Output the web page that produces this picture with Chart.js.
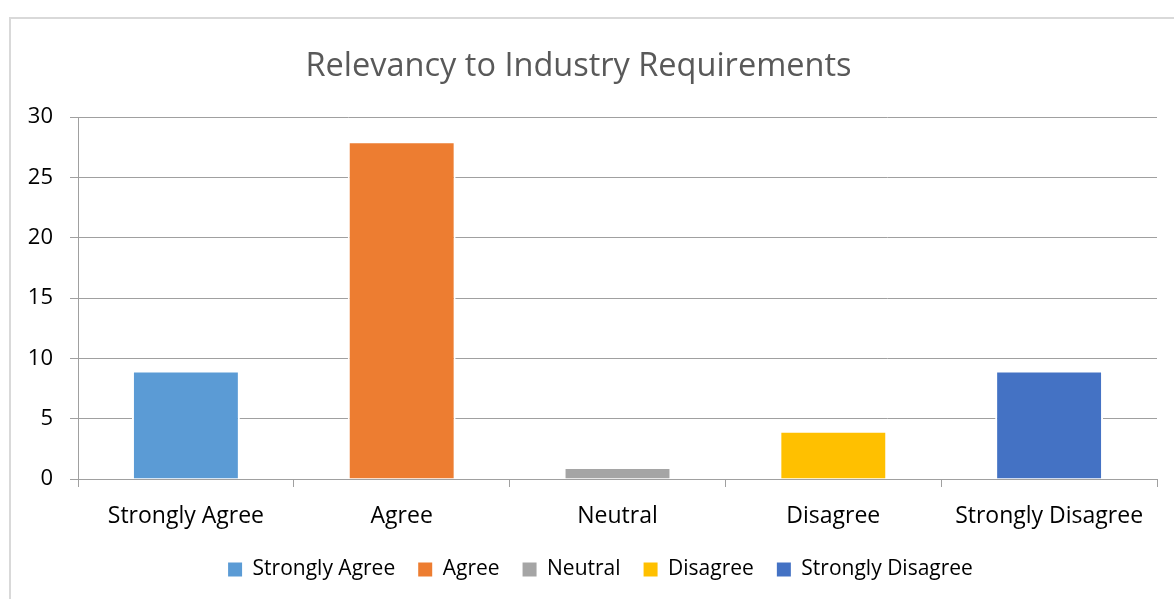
<!DOCTYPE html>
<html>
<head>
<meta charset="utf-8">
<script src="https://cdn.jsdelivr.net/npm/chart.js@4.4.1/dist/chart.umd.min.js"></script>
<style>
  html, body { margin: 0; padding: 0; background: #fff; overflow: hidden; }
  #wrap { position: relative; width: 1174px; height: 599px; }
  #frame { position: absolute; left: 9px; top: 17px; width: 1180px; height: 600px; border: 2px solid #d9d9d9; box-sizing: border-box; }
  #chart { position: absolute; left: 0; top: 0; }
</style>
</head>
<body>
<div id="wrap">
  <div id="frame"></div>
  <canvas id="chart" width="1174" height="599"></canvas>
</div>
<script>
// ================= DATA =================
const categories = ['Strongly Agree', 'Agree', 'Neutral', 'Disagree', 'Strongly Disagree'];
const responses = [9, 28, 1, 4, 9];
const barColors = ['#5B9BD5', '#ED7D31', '#A5A5A5', '#FFC000', '#4472C4'];
const yTicks = [0, 5, 10, 15, 20, 25, 30];

const FONT = "'Open Sans', sans-serif";

// legend sits a bit right of centre in the original
const legendShift = {
    id: 'legendShift',
    beforeDraw(chart) {
        chart.legend.left += 22;
        chart.legend.right += 22;
    }
};

const ctx = document.getElementById('chart');

new Chart(ctx, {
    type: 'bar',
    data: {
        labels: categories,
        datasets: [{
            label: 'Relevancy',
            data: responses,
            backgroundColor: barColors,
            borderColor: '#ffffff',
            borderWidth: 2,
            categoryPercentage: 1,
            barPercentage: 0.5
        }]
    },
    plugins: [legendShift],
    options: {
        responsive: false,
        animation: false,
        layout: { padding: { left: 0, right: 17, top: 0, bottom: 9 } },
        plugins: {
            title: {
                display: true,
                text: 'Relevancy to Industry Requirements',
                color: '#595959',
                font: { family: FONT, size: 32.5, weight: 'normal' },
                padding: { top: 47, bottom: 31 }
            },
            legend: {
                position: 'bottom',
                labels: {
                    color: '#595959',
                    font: { family: FONT, size: 21 },
                    boxWidth: 14,
                    boxHeight: 14,
                    padding: 23,
                    generateLabels: () => categories.map((c, i) => ({
                        text: c,
                        fillStyle: barColors[i],
                        strokeStyle: barColors[i],
                        lineWidth: 0,
                        index: i
                    }))
                }
            },
            tooltip: { enabled: false }
        },
        scales: {
            x: {
                afterFit: s => { s.height = 57; },
                grid: { drawOnChartArea: false, drawTicks: true, tickLength: 8, color: '#a0a0a0' },
                border: { color: '#a0a0a0' },
                ticks: { color: '#000', font: { family: FONT, size: 23 }, padding: 16, maxRotation: 0 }
            },
            y: {
                min: 0,
                max: 30,
                afterFit: s => { s.width = 78; },
                afterBuildTicks: s => { s.ticks = yTicks.map(v => ({ value: v })); },
                grid: { color: '#a0a0a0', tickLength: 8 },
                border: { color: '#a0a0a0' },
                ticks: { color: '#000', font: { family: FONT, size: 22 }, padding: 17 }
            }
        }
    }
});
</script>
</body>
</html>
